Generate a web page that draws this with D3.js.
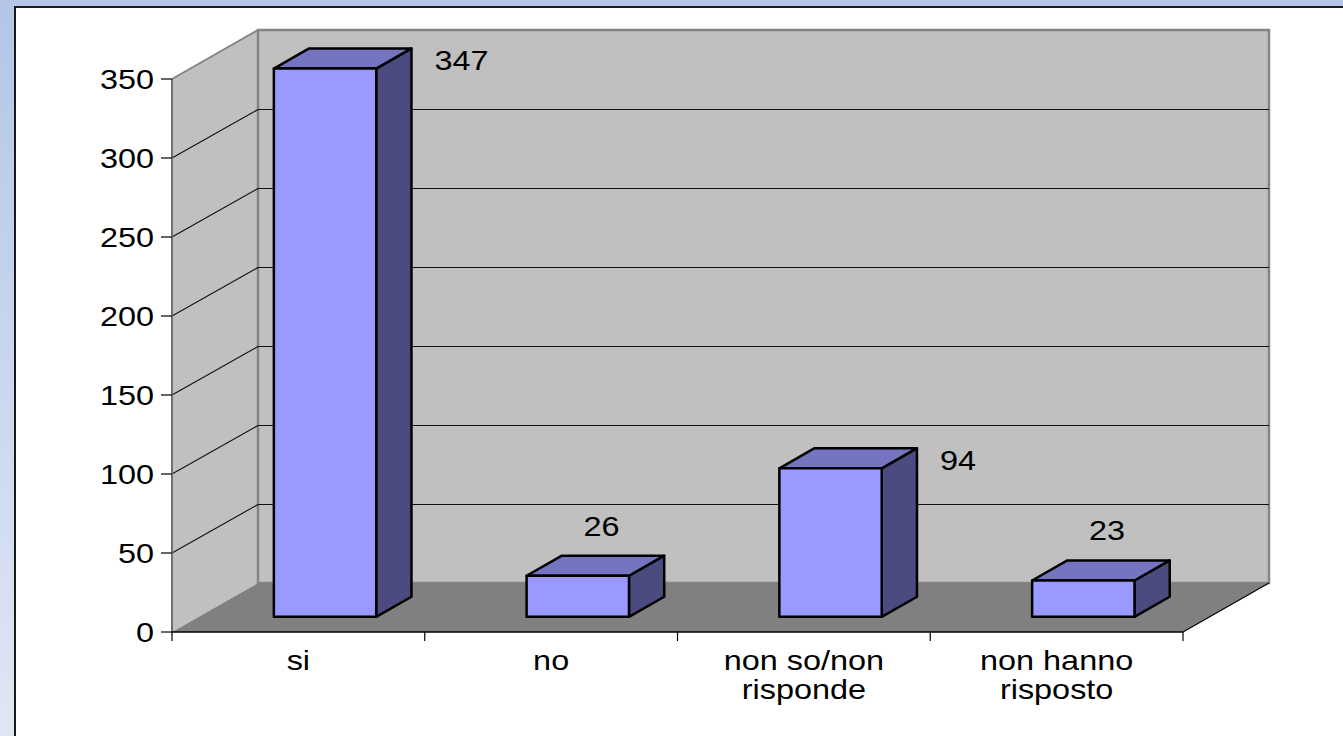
<!DOCTYPE html>
<html>
<head>
<meta charset="utf-8">
<script src="https://cdn.jsdelivr.net/npm/d3@7/dist/d3.min.js"></script>
<style>
  html, body { margin: 0; padding: 0; overflow: hidden; }
  body { width: 1343px; height: 736px; }
  text { font-family: "Liberation Sans", Arial, sans-serif; fill: #000; }
</style>
</head>
<body>
<svg id="chart" width="1343" height="736"></svg>
<script>
// ---- data ----
const categories = ["si", "no", "non so/non risponde", "non hanno risposto"];
const categoryLines = [["si"], ["no"], ["non so/non", "risponde"], ["non hanno", "risposto"]];
const values = [347, 26, 94, 23];
const yTicks = [0, 50, 100, 150, 200, 250, 300, 350];
const labelPlacement = ["right", "above", "right", "above"];

// ---- layout ----
const W = 1343, H = 736;
const svg = d3.select("#chart");
const FS = 27, SX = 1.2;       // font size, horizontal stretch
const DX = 86, DY = -49;       // depth projection
const D0 = 0.31, D1 = 0.72;    // bar depth range

// background
const defs = svg.append("defs");
const bg = defs.append("linearGradient").attr("id", "bg").attr("x1", 0).attr("y1", 0).attr("x2", 0).attr("y2", 1);
bg.append("stop").attr("offset", "0%").attr("stop-color", "#b3c6e8");
bg.append("stop").attr("offset", "100%").attr("stop-color", "#e0e7f4");
svg.append("rect").attr("width", W).attr("height", H).attr("fill", "url(#bg)");
svg.append("rect").attr("x", 15).attr("y", 7).attr("width", W).attr("height", H)
  .attr("fill", "#fff").attr("stroke", "#1a1a1a").attr("stroke-width", 2);

const x = d3.scaleBand().domain(categories).range([172, 1183]).paddingInner(0.595).paddingOuter(0.2975);
const y = d3.scaleLinear().domain([0, 350]).range([632, 79]);
const x0 = 172, x1 = 1183;
const proj = (xf, v, d) => [xf + DX * d, y(v) + DY * d];
const poly = pts => "M" + pts.map(p => p.join(",")).join("L") + "Z";

// side wall
svg.append("path")
  .attr("d", poly([proj(x0, 0, 0), proj(x0, 350, 0), proj(x0, 350, 1), proj(x0, 0, 1)]))
  .attr("fill", "#c0c0c0").attr("stroke", "none");
// back wall
svg.append("path")
  .attr("d", poly([proj(x0, 0, 1), proj(x0, 350, 1), proj(x1, 350, 1), proj(x1, 0, 1)]))
  .attr("fill", "#c0c0c0").attr("stroke", "#858585").attr("stroke-width", 2.5);
// side wall top edge
svg.append("line")
  .attr("x1", proj(x0, 350, 0)[0]).attr("y1", proj(x0, 350, 0)[1])
  .attr("x2", proj(x0, 350, 1)[0]).attr("y2", proj(x0, 350, 1)[1])
  .attr("stroke", "#858585").attr("stroke-width", 2);
// floor
svg.append("path")
  .attr("d", poly([proj(x0, 0, 0), proj(x1, 0, 0), proj(x1, 0, 1), proj(x0, 0, 1)]))
  .attr("fill", "#808080").attr("stroke", "none");
svg.append("line")
  .attr("x1", proj(x1, 0, 0)[0]).attr("y1", proj(x1, 0, 0)[1])
  .attr("x2", proj(x1, 0, 1)[0]).attr("y2", proj(x1, 0, 1)[1])
  .attr("stroke", "#000").attr("stroke-width", 1.2);

// gridlines
const grid = yTicks.filter(t => t > 0 && t < 350);
grid.forEach(t => {
  const a = proj(x0, t, 0), b = proj(x0, t, 1), c = proj(x1, t, 1);
  const yy = Math.round(b[1]) + 0.5;
  svg.append("line").attr("x1", a[0]).attr("y1", a[1]).attr("x2", b[0]).attr("y2", yy)
    .attr("stroke", "#111").attr("stroke-width", 1.1);
  svg.append("line").attr("x1", b[0]).attr("y1", yy).attr("x2", c[0]).attr("y2", yy)
    .attr("stroke", "#111").attr("stroke-width", 1.2).attr("shape-rendering", "crispEdges");
});

// axes
svg.append("line").attr("x1", x0).attr("x2", x0).attr("y1", y(0)).attr("y2", y(350))
  .attr("stroke", "#707070").attr("stroke-width", 2);
yTicks.forEach(t => {
  svg.append("line").attr("x1", x0 - 11).attr("x2", x0).attr("y1", y(t)).attr("y2", y(t))
    .attr("stroke", "#000").attr("stroke-width", 1.2);
  svg.append("text")
    .attr("transform", `translate(${x0 - 18},${y(t) + 9.5}) scale(${SX},1)`)
    .attr("text-anchor", "end").attr("font-size", FS).text(t);
});
svg.append("line").attr("x1", x0).attr("x2", x1).attr("y1", y(0)).attr("y2", y(0))
  .attr("stroke", "#000").attr("stroke-width", 1.5);
const step = x.step();
d3.range(categories.length + 1).forEach(i => {
  const xx = x0 + i * step;
  svg.append("line").attr("x1", xx).attr("x2", xx).attr("y1", y(0)).attr("y2", y(0) + 9)
    .attr("stroke", "#000").attr("stroke-width", 1.2);
});
categories.forEach((c, i) => {
  const cx = x(c) + x.bandwidth() / 2;
  categoryLines[i].forEach((ln, j) => {
    svg.append("text")
      .attr("transform", `translate(${cx},${670 + j * 29}) scale(${SX},1)`)
      .attr("text-anchor", "middle").attr("font-size", FS).text(ln);
  });
});

// bars
categories.forEach((c, i) => {
  const v = values[i];
  const a = x(c), b = a + x.bandwidth();
  const g = svg.append("g").attr("stroke", "#000").attr("stroke-width", 2.5).attr("stroke-linejoin", "round");
  g.append("path").attr("d", poly([proj(b, 0, D0), proj(b, 0, D1), proj(b, v, D1), proj(b, v, D0)]))
    .attr("fill", "#4b4b80");
  g.append("path").attr("d", poly([proj(a, v, D0), proj(b, v, D0), proj(b, v, D1), proj(a, v, D1)]))
    .attr("fill", "#7474c0");
  g.append("path").attr("d", poly([proj(a, 0, D0), proj(b, 0, D0), proj(b, v, D0), proj(a, v, D0)]))
    .attr("fill", "#9999ff");

  // value label
  const backTop = proj(b, v, D1);
  let tx, ty, anchor;
  if (labelPlacement[i] === "right") {
    tx = backTop[0] + 23; ty = backTop[1] + 22; anchor = "start";
  } else {
    tx = (a + b) / 2 + DX * (D0 + D1) / 2 + 6; ty = backTop[1] - 20; anchor = "middle";
  }
  svg.append("text")
    .attr("transform", `translate(${tx},${ty}) scale(${SX},1)`)
    .attr("text-anchor", anchor).attr("font-size", FS).text(v);
});
</script>
</body>
</html>
